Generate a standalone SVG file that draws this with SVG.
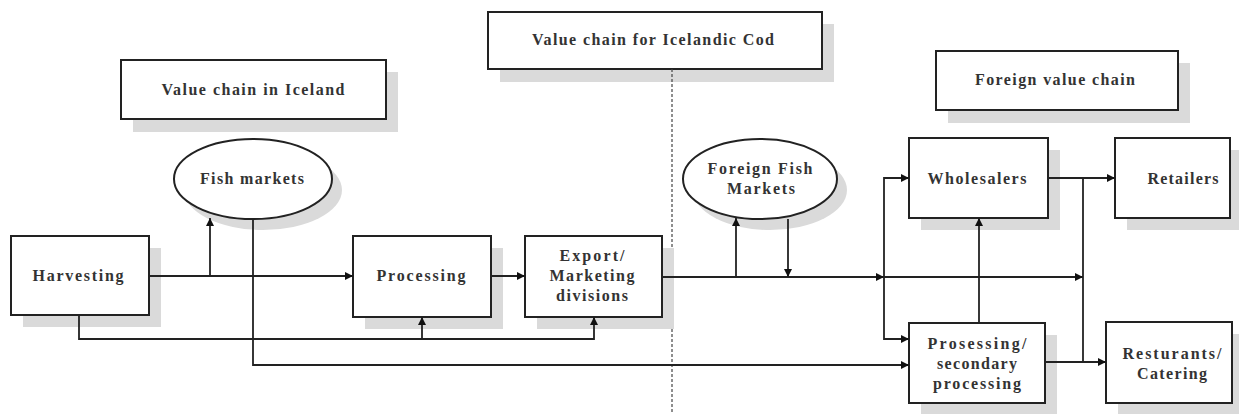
<svg xmlns="http://www.w3.org/2000/svg" width="1239" height="414" viewBox="0 0 1239 414">
<defs>
<style>
.box{fill:#fff;stroke:#222;stroke-width:2}
.sh{fill:#dadada}
.t{font-family:"Liberation Serif",serif;font-size:16px;font-weight:bold;fill:#333;text-anchor:middle}
.c{fill:none;stroke:#222;stroke-width:1.8}
</style>
<marker id="ar" viewBox="0 0 10 10" refX="10" refY="5" markerWidth="9" markerHeight="8" markerUnits="userSpaceOnUse" orient="auto">
<path d="M0,0 L10,5 L0,10 z" fill="#111"/>
</marker>
</defs>
<rect width="1239" height="414" fill="#fff"/>

<g id="label-iceland">
<rect class="sh" x="133" y="72" width="265" height="60"/>
<rect class="box" x="121" y="60" width="265" height="59"/>
<text class="t" x="253" y="95" textLength="183" lengthAdjust="spacing">Value chain in Iceland</text>
</g>
<g id="label-cod">
<rect class="sh" x="500" y="24" width="334" height="58"/>
<rect class="box" x="488" y="12" width="334" height="57"/>
<text class="t" x="653" y="45" textLength="242" lengthAdjust="spacing">Value chain for Icelandic Cod</text>
</g>
<g id="label-foreign">
<rect class="sh" x="948" y="63" width="242" height="60"/>
<rect class="box" x="936" y="51" width="242" height="59"/>
<text class="t" x="1055" y="85" textLength="160" lengthAdjust="spacing">Foreign value chain</text>
</g>

<line x1="672" y1="69" x2="672" y2="414" stroke="#444" stroke-width="1.2" stroke-dasharray="3,2"/>

<g id="fish-markets">
<ellipse class="sh" cx="263" cy="190" rx="79" ry="40"/>
<ellipse class="box" cx="253" cy="179" rx="79" ry="40"/>
<text class="t" x="252" y="184" textLength="104" lengthAdjust="spacing">Fish markets</text>
</g>
<g id="foreign-fish-markets">
<ellipse class="sh" cx="770" cy="190" rx="77" ry="40"/>
<ellipse class="box" cx="760" cy="179" rx="77" ry="40"/>
<text class="t" x="760" y="174" textLength="105" lengthAdjust="spacing">Foreign Fish</text>
<text class="t" x="761" y="194" textLength="68" lengthAdjust="spacing">Markets</text>
</g>
<g id="harvesting">
<rect class="sh" x="23" y="248" width="138" height="79"/>
<rect class="box" x="11" y="236" width="138" height="79"/>
<text class="t" x="78" y="281" textLength="91" lengthAdjust="spacing">Harvesting</text>
</g>
<g id="processing">
<rect class="sh" x="365" y="248" width="138" height="81"/>
<rect class="box" x="353" y="236" width="138" height="81"/>
<text class="t" x="421" y="281" textLength="89" lengthAdjust="spacing">Processing</text>
</g>
<g id="export">
<rect class="sh" x="537" y="248" width="137" height="81"/>
<rect class="box" x="525" y="236" width="137" height="81"/>
<text class="t" x="592" y="261" textLength="65" lengthAdjust="spacing">Export/</text>
<text class="t" x="592" y="281" textLength="85" lengthAdjust="spacing">Marketing</text>
<text class="t" x="592" y="301" textLength="72" lengthAdjust="spacing">divisions</text>
</g>
<g id="wholesalers">
<rect class="sh" x="921" y="150" width="139" height="80"/>
<rect class="box" x="909" y="138" width="139" height="80"/>
<text class="t" x="977" y="184" textLength="99" lengthAdjust="spacing">Wholesalers</text>
</g>
<g id="retailers">
<rect class="sh" x="1127" y="150" width="115" height="80"/>
<rect class="box" x="1115" y="138" width="115" height="80"/>
<text class="t" x="1183" y="184" textLength="71" lengthAdjust="spacing">Retailers</text>
</g>
<g id="secondary-processing">
<rect class="sh" x="921" y="335" width="136" height="80"/>
<rect class="box" x="909" y="323" width="136" height="80"/>
<text class="t" x="977" y="349" textLength="99" lengthAdjust="spacing">Prosessing/</text>
<text class="t" x="977" y="369" textLength="80" lengthAdjust="spacing">secondary</text>
<text class="t" x="977" y="389" textLength="88" lengthAdjust="spacing">processing</text>
</g>
<g id="restaurants">
<rect class="sh" x="1118" y="334" width="126" height="81"/>
<rect class="box" x="1106" y="322" width="126" height="81"/>
<text class="t" x="1172" y="359" textLength="99" lengthAdjust="spacing">Resturants/</text>
<text class="t" x="1172" y="379" textLength="70" lengthAdjust="spacing">Catering</text>
</g>

<g id="connectors">
<path class="c" d="M149,276 H353" marker-end="url(#ar)"/>
<path class="c" d="M210,276 V218" marker-end="url(#ar)"/>
<path class="c" d="M253,219 V365 H909" marker-end="url(#ar)"/>
<path class="c" d="M79,315 V339 H594 V317" marker-end="url(#ar)"/>
<path class="c" d="M422,339 V317" marker-end="url(#ar)"/>
<path class="c" d="M491,276 H525" marker-end="url(#ar)"/>
<path class="c" d="M662,277 H884" marker-end="url(#ar)"/>
<path class="c" d="M884,277 H1083" marker-end="url(#ar)"/>
<path class="c" d="M736,277 V218" marker-end="url(#ar)"/>
<path class="c" d="M788,219 V277" marker-end="url(#ar)"/>
<path class="c" d="M909,178 H884 V339 H909"/>
<path class="c" d="M884,178 H909" marker-end="url(#ar)"/>
<path class="c" d="M884,339 H909" marker-end="url(#ar)"/>
<path class="c" d="M979,323 V218" marker-end="url(#ar)"/>
<path class="c" d="M1048,178 H1115" marker-end="url(#ar)"/>
<path class="c" d="M1083,178 V362"/>
<path class="c" d="M1045,362 H1106" marker-end="url(#ar)"/>
</g>
</svg>
